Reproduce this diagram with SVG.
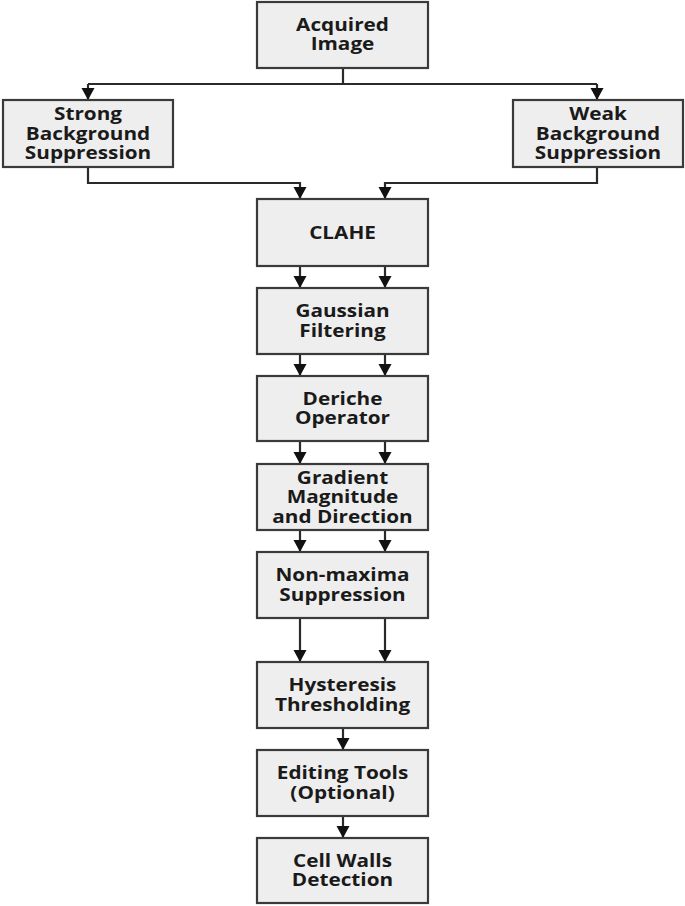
<svg xmlns="http://www.w3.org/2000/svg" width="685" height="906" viewBox="0 0 685 906">
<defs>
<marker id="ah" markerUnits="userSpaceOnUse" markerWidth="15" markerHeight="15" refX="12" refY="7" orient="auto" viewBox="0 0 15 15">
<path d="M0,0.5 L12,7 L0,13.5 Z" fill="#111"/>
</marker>
<style>
.box{fill:#eeeeee;stroke:#3a3a3a;stroke-width:2.2}
.t{font-family:"Open Sans","Noto Sans","Liberation Sans",sans-serif;font-weight:700;font-size:17px;fill:#1a1a1a;text-anchor:middle}
.c{fill:none;stroke:#2a2a2a;stroke-width:2.2}
.a{marker-end:url(#ah)}
</style>
</defs>
<rect width="685" height="906" fill="#ffffff"/>
<g id="connectors">
<path class="c" d="M343,68 V84 M88,84 H597"/>
<path class="c a" d="M88,84 V100"/>
<path class="c a" d="M597,84 V100"/>
<path class="c a" d="M88,167 V183 H300 V199"/>
<path class="c a" d="M597,167 V183 H385 V199"/>
<path class="c a" d="M300,266 V288"/>
<path class="c a" d="M385,266 V288"/>
<path class="c a" d="M300,354 V376"/>
<path class="c a" d="M385,354 V376"/>
<path class="c a" d="M300,441 V464"/>
<path class="c a" d="M385,441 V464"/>
<path class="c a" d="M300,530 V552"/>
<path class="c a" d="M385,530 V552"/>
<path class="c a" d="M300,618 V662"/>
<path class="c a" d="M385,618 V662"/>
<path class="c a" d="M343,728 V750"/>
<path class="c a" d="M343,816 V838"/>
</g>
<g id="acquired">
<rect class="box" x="257" y="2" width="171" height="66"/>
<g transform="translate(342.5,0) scale(1.22,1)"><text class="t" x="0" y="31">Acquired</text><text class="t" x="0" y="50.5">Image</text></g>
</g>
<g id="strong">
<rect class="box" x="3" y="100" width="170" height="67"/>
<g transform="translate(88,0) scale(1.22,1)"><text class="t" x="0" y="120.5">Strong</text><text class="t" x="0" y="140">Background</text><text class="t" x="0" y="159.5">Suppression</text></g>
</g>
<g id="weak">
<rect class="box" x="513" y="100" width="170" height="67"/>
<g transform="translate(598,0) scale(1.22,1)"><text class="t" x="0" y="120.5">Weak</text><text class="t" x="0" y="140">Background</text><text class="t" x="0" y="159.5">Suppression</text></g>
</g>
<g id="clahe">
<rect class="box" x="257" y="199" width="171" height="67"/>
<g transform="translate(342.5,0) scale(1.22,1)"><text class="t" x="0" y="239">CLAHE</text></g>
</g>
<g id="gaussian">
<rect class="box" x="257" y="288" width="171" height="66"/>
<g transform="translate(342.5,0) scale(1.22,1)"><text class="t" x="0" y="317.5">Gaussian</text><text class="t" x="0" y="337">Filtering</text></g>
</g>
<g id="deriche">
<rect class="box" x="257" y="376" width="171" height="65"/>
<g transform="translate(342.5,0) scale(1.22,1)"><text class="t" x="0" y="405">Deriche</text><text class="t" x="0" y="424.5">Operator</text></g>
</g>
<g id="gradient">
<rect class="box" x="257" y="464" width="171" height="66"/>
<g transform="translate(342.5,0) scale(1.22,1)"><text class="t" x="0" y="484">Gradient</text><text class="t" x="0" y="503.5">Magnitude</text><text class="t" x="0" y="523">and Direction</text></g>
</g>
<g id="nonmax">
<rect class="box" x="257" y="552" width="171" height="66"/>
<g transform="translate(342.5,0) scale(1.22,1)"><text class="t" x="0" y="581.5">Non-maxima</text><text class="t" x="0" y="601">Suppression</text></g>
</g>
<g id="hysteresis">
<rect class="box" x="257" y="662" width="171" height="66"/>
<g transform="translate(342.5,0) scale(1.22,1)"><text class="t" x="0" y="691.5">Hysteresis</text><text class="t" x="0" y="711">Thresholding</text></g>
</g>
<g id="editing">
<rect class="box" x="257" y="750" width="171" height="66"/>
<g transform="translate(342.5,0) scale(1.22,1)"><text class="t" x="0" y="779.5">Editing Tools</text><text class="t" x="0" y="799">(Optional)</text></g>
</g>
<g id="cellwalls">
<rect class="box" x="257" y="838" width="171" height="65"/>
<g transform="translate(342.5,0) scale(1.22,1)"><text class="t" x="0" y="867">Cell Walls</text><text class="t" x="0" y="886.5">Detection</text></g>
</g>
</svg>
